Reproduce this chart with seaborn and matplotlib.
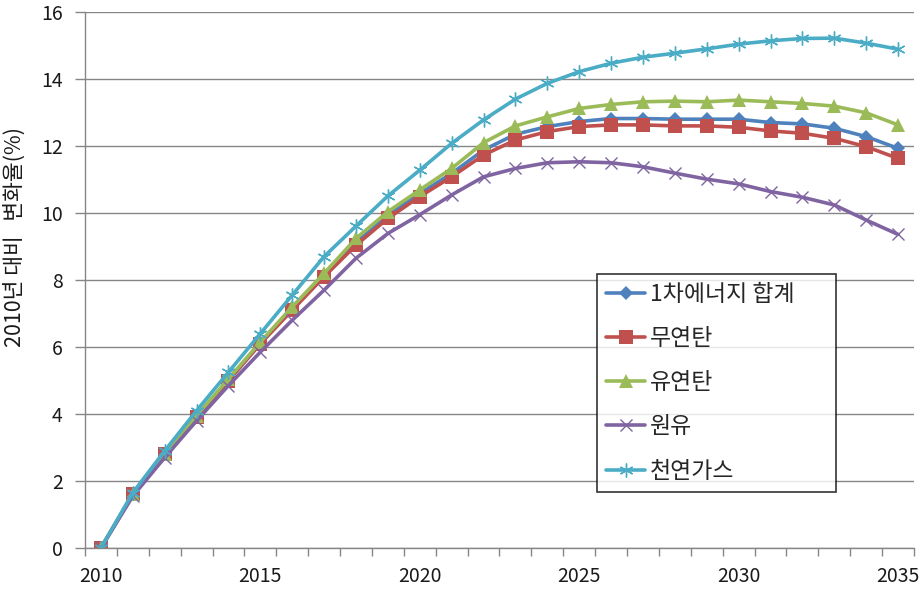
import matplotlib
matplotlib.use("Agg")
import matplotlib.pyplot as plt
import seaborn as sns
import pandas as pd

# Projected change relative to 2010 (%), by energy source
years = list(range(2010, 2036))
total_primary = [0, 1.6, 2.8, 3.95, 5.0, 6.1, 7.15, 8.15, 9.12, 9.93, 10.58, 11.18, 11.88,
                 12.35, 12.58, 12.73, 12.82, 12.82, 12.8, 12.8, 12.8, 12.7, 12.66, 12.53, 12.28, 11.93]
anthracite = [0, 1.6, 2.8, 3.9, 5.0, 6.1, 7.1, 8.1, 9.04, 9.84, 10.49, 11.08, 11.73,
              12.18, 12.43, 12.58, 12.63, 12.63, 12.6, 12.6, 12.56, 12.45, 12.38, 12.23, 11.98, 11.63]
bituminous = [0, 1.6, 2.8, 3.95, 5.05, 6.15, 7.2, 8.2, 9.24, 10.04, 10.69, 11.33, 12.1,
              12.6, 12.87, 13.12, 13.24, 13.32, 13.34, 13.32, 13.37, 13.32, 13.27, 13.19, 12.99, 12.63]
crude_oil = [0, 1.55, 2.7, 3.8, 4.85, 5.85, 6.8, 7.7, 8.65, 9.39, 9.95, 10.54, 11.08,
             11.33, 11.5, 11.53, 11.5, 11.38, 11.19, 11.01, 10.87, 10.64, 10.47, 10.24, 9.79, 9.36]
natural_gas = [0, 1.65, 2.9, 4.1, 5.25, 6.4, 7.55, 8.7, 9.61, 10.51, 11.28, 12.08, 12.78,
               13.4, 13.87, 14.22, 14.47, 14.65, 14.77, 14.9, 15.04, 15.14, 15.21, 15.22, 15.07, 14.89]

series_names = ["1차에너지 합계", "무연탄", "유연탄", "원유", "천연가스"]
series_values = [total_primary, anthracite, bituminous, crude_oil, natural_gas]
series_colors = ["#4F81BD", "#C0504D", "#9BBB59", "#8064A2", "#4BACC6"]
series_markers = ["D", "s", "^", "x", (6, 2, 0)]
marker_sizes = [7, 9.5, 9.5, 9, 10]

sns.set_style("white")
plt.rcParams["font.family"] = ["Noto Sans CJK KR", "DejaVu Sans"]

fig = plt.figure(figsize=(9.22, 5.93), dpi=100)
ax = fig.add_axes([85 / 922, 1 - 548 / 593, (914 - 85) / 922, (548 - 12) / 593])

for name, vals, col, mk, ms in zip(series_names, series_values, series_colors,
                                   series_markers, marker_sizes):
    df = pd.DataFrame({"year": years, "value": vals})
    filled = mk in ("D", "s", "^")
    sns.lineplot(data=df, x="year", y="value", ax=ax, color=col, linewidth=2.6,
                 marker=mk, markersize=ms, label=name,
                 markeredgewidth=0.0 if filled else 1.0,
                 markeredgecolor=col, markerfacecolor=col)

ax.set_xlim(2009.5, 2035.5)
ax.set_ylim(0, 16)
ax.set_yticks(range(0, 17, 2))
ax.set_xticks(range(2010, 2036, 5))
ax.set_xticks([y + 0.5 for y in range(2009, 2036)], minor=True)
ax.tick_params(axis="x", which="major", length=0, pad=13, labelsize=14, labelcolor="#1a1a1a")
ax.tick_params(axis="x", which="minor", length=6, width=1, color="#868686", bottom=True)
ax.tick_params(axis="y", which="major", length=7, width=1, color="#868686", pad=9,
               labelsize=14, labelcolor="#1a1a1a", left=True)

ax.grid(axis="y", color="#868686", linewidth=1)
ax.grid(axis="x", visible=False)
ax.set_axisbelow(True)
for side in ("top", "right"):
    ax.spines[side].set_visible(False)
for side in ("left", "bottom"):
    ax.spines[side].set_color("#868686")
    ax.spines[side].set_linewidth(1)

ax.set_xlabel("")
ax.set_ylabel("2010년 대비   변화율(%)", fontsize=15.5, color="#1a1a1a")
ax.yaxis.set_label_coords(-0.071, 0.58)

leg = ax.legend(loc="upper left", bbox_to_anchor=(597 / 922, 1 - 280 / 593, (836 - 597) / 922, 0.01),
                bbox_transform=fig.transFigure, mode="expand", borderaxespad=0,
                fontsize=16.5, frameon=True, fancybox=False, handlelength=1.7,
                handletextpad=0.2, labelspacing=0.92, borderpad=0.4)
leg.get_frame().set_edgecolor("#000000")
leg.get_frame().set_linewidth(1.2)

fig.savefig("out.png", dpi=100)
